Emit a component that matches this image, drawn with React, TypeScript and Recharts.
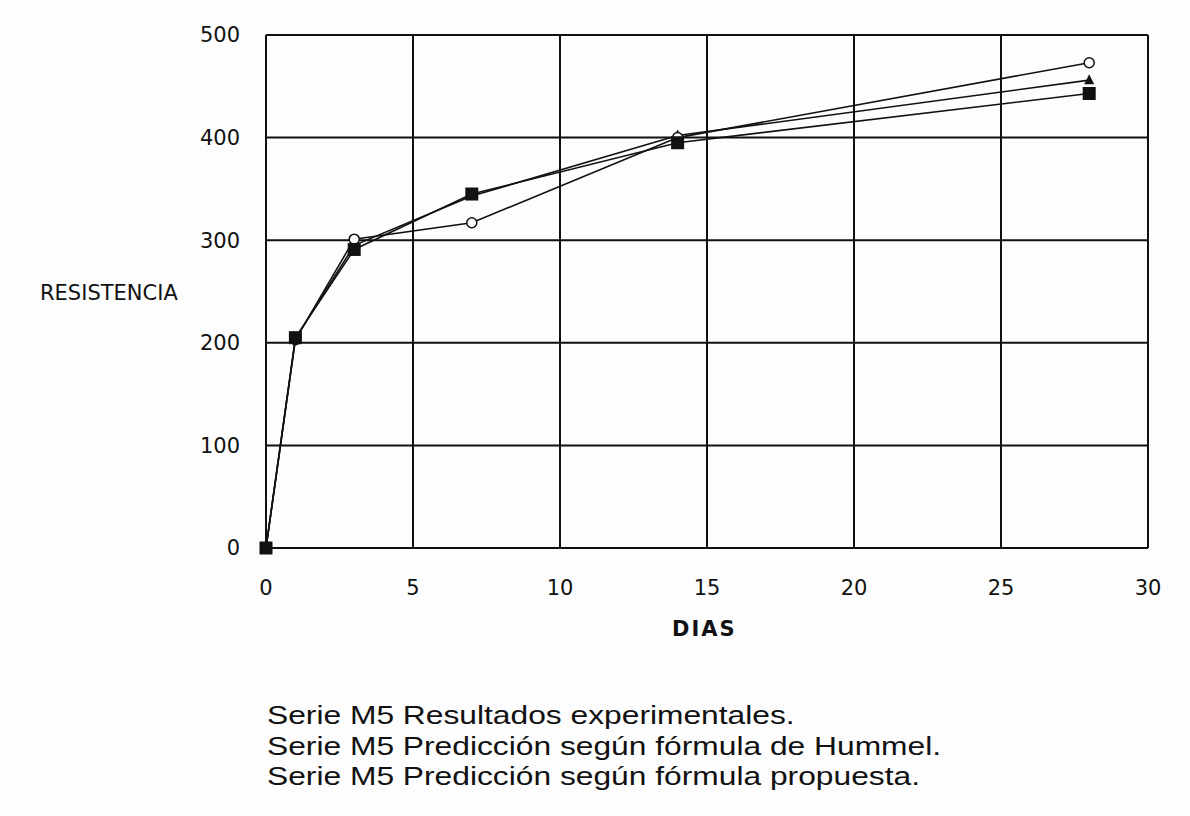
import React from 'react';
import { LineChart, Line, XAxis, YAxis, CartesianGrid } from 'recharts';

// días de ensayo
const dias = [0, 1, 3, 7, 14, 28];
// Serie M5 resultados experimentales
const experimental = [0, 205, 291, 345, 395, 443];
// Serie M5 predicción según fórmula de Hummel
const hummel = [0, 203, 301, 317, 400, 473];
// Serie M5 predicción según fórmula propuesta
const propuesta = [0, 204, 295, 343, 402, 456];

const xTicks = [0, 5, 10, 15, 20, 25, 30];
const yTicks = [0, 100, 200, 300, 400, 500];

const legendLines = [
  'Serie M5 Resultados experimentales.',
  'Serie M5 Predicción según fórmula de Hummel.',
  'Serie M5 Predicción según fórmula propuesta.',
];

const data = dias.map((d, i) => ({
  dia: d,
  experimental: experimental[i],
  hummel: hummel[i],
  propuesta: propuesta[i],
}));

const ink = '#111';
const plotFont = '"DejaVu Sans", sans-serif';

const SquareDot = (props: any) => {
  const { cx, cy } = props;
  if (cx == null || cy == null) return null;
  return <rect x={cx - 6.5} y={cy - 6.5} width={13} height={13} fill={ink} />;
};

const CircleDot = (props: any) => {
  const { cx, cy } = props;
  if (cx == null || cy == null) return null;
  return <circle cx={cx} cy={cy} r={5} fill="#fff" stroke={ink} strokeWidth={1.5} />;
};

const TriangleDot = (props: any) => {
  const { cx, cy } = props;
  if (cx == null || cy == null) return null;
  return <path d={`M${cx},${cy - 6} L${cx + 5},${cy + 4} L${cx - 5},${cy + 4} Z`} fill={ink} />;
};

export default function App() {
  return (
    <div style={{ position: 'absolute', left: 0, top: 0, width: 1190, height: 816, background: '#fdfdfd', overflow: 'hidden' }}>
      <LineChart
        width={1190}
        height={660}
        data={data}
        margin={{ top: 35, right: 42, left: 206, bottom: 62 }}
      >
        <CartesianGrid stroke={ink} strokeWidth={2} />
        <XAxis
          dataKey="dia"
          type="number"
          domain={[0, 30]}
          ticks={xTicks}
          height={50}
          tickLine={false}
          tickSize={0}
          tickMargin={32}
          axisLine={{ stroke: ink, strokeWidth: 2 }}
          tick={{ fill: ink, fontSize: 21, fontFamily: plotFont }}
        />
        <YAxis
          type="number"
          domain={[0, 500]}
          ticks={yTicks}
          width={60}
          tickLine={false}
          tickSize={0}
          tickMargin={26}
          axisLine={{ stroke: ink, strokeWidth: 2 }}
          tick={{ fill: ink, fontSize: 21, fontFamily: plotFont }}
        />
        <Line
          dataKey="propuesta"
          type="linear"
          stroke={ink}
          strokeWidth={1.6}
          dot={<TriangleDot />}
          isAnimationActive={false}
        />
        <Line
          dataKey="hummel"
          type="linear"
          stroke={ink}
          strokeWidth={1.6}
          dot={<CircleDot />}
          isAnimationActive={false}
        />
        <Line
          dataKey="experimental"
          type="linear"
          stroke={ink}
          strokeWidth={1.6}
          dot={<SquareDot />}
          isAnimationActive={false}
        />
      </LineChart>

      <div style={{ position: 'absolute', left: 40, top: 281, fontFamily: plotFont, fontSize: 21, color: ink }}>
        RESISTENCIA
      </div>
      <div style={{ position: 'absolute', left: 672, top: 617, fontFamily: plotFont, fontSize: 21, fontWeight: 'bold', letterSpacing: 2, color: ink }}>
        DIAS
      </div>

      <div
        style={{
          position: 'absolute',
          left: 267,
          top: 700,
          fontFamily: '"Liberation Sans", Arial, sans-serif',
          fontSize: 25,
          lineHeight: '30.5px',
          color: ink,
          whiteSpace: 'nowrap',
          transform: 'scaleX(1.27)',
          transformOrigin: 'left top',
        }}
      >
        {legendLines.map((t) => (
          <div key={t}>{t}</div>
        ))}
      </div>
    </div>
  );
}
